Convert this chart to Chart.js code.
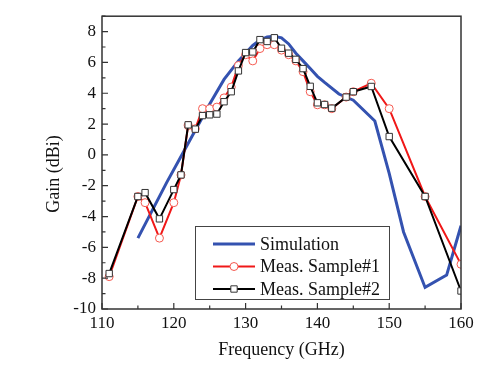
<!DOCTYPE html>
<html>
<head>
<meta charset="utf-8">
<script src="https://cdn.jsdelivr.net/npm/chart.js@4/dist/chart.umd.min.js"></script>
<style>
  html, body { margin: 0; padding: 0; background: #fff; }
</style>
</head>
<body>
<canvas id="gainChart" width="500" height="372"></canvas>
<script>
// values
const simFreq = [115, 117, 119, 121, 123, 125, 127, 129, 131, 132, 133, 134, 135, 136, 137, 138, 139, 140, 141, 143, 145, 148, 150, 152, 155, 158, 160];
const simGain = [-5.4, -3.6, -1.8, -0.1, 1.6, 3.3, 4.9, 6.1, 7.1, 7.45, 7.65, 7.7, 7.6, 7.2, 6.6, 6.1, 5.6, 5.1, 4.7, 3.95, 3.55, 2.2, -1.2, -5.0, -8.6, -7.8, -4.6];

const s1Freq = [111, 115, 116, 118, 120, 121, 122, 123, 124, 125, 126, 127, 128, 129, 130, 131, 132, 133, 134, 135, 136, 137, 138, 139, 140, 141, 142, 144, 145, 147.5, 150, 155, 160];
const s1Gain = [-7.9, -2.7, -3.1, -5.4, -3.1, -1.3, 1.9, 1.7, 3.0, 3.0, 3.1, 3.7, 4.4, 5.8, 6.5, 6.1, 6.9, 7.15, 7.15, 6.8, 6.5, 6.1, 5.4, 4.1, 3.25, 3.25, 3.0, 3.75, 4.1, 4.65, 3.0, -2.7, -7.1];

const s2Freq = [111, 115, 116, 118, 120, 121, 122, 123, 124, 125, 126, 127, 128, 129, 130, 131, 132, 133, 134, 135, 136, 137, 138, 139, 140, 141, 142, 144, 145, 147.5, 150, 155, 160];
const s2Gain = [-7.7, -2.7, -2.45, -4.15, -2.25, -1.3, 1.95, 1.67, 2.55, 2.6, 2.65, 3.45, 4.1, 5.45, 6.64, 6.68, 7.48, 7.36, 7.6, 6.92, 6.6, 6.2, 5.6, 4.45, 3.38, 3.27, 3.03, 3.75, 4.1, 4.44, 1.19, -2.7, -8.83];

const xTickValues = [110, 120, 130, 140, 150, 160];
const yTickValues = [-10, -8, -6, -4, -2, 0, 2, 4, 6, 8];

const serif = '"Liberation Serif", "Times New Roman", serif';

function toPoints(xs, ys) {
    return xs.map((x, i) => ({ x: x, y: ys[i] }));
}

// box around the plot, inward ticks and the rotated y title
const framePlugin = {
    id: 'frame',
    afterDatasetsDraw(chart) {
        const { ctx, chartArea: a, scales } = chart;
        const x = scales.x, y = scales.y;
        ctx.save();
        ctx.strokeStyle = '#333';
        ctx.lineWidth = 1.5;
        ctx.strokeRect(a.left, a.top, a.right - a.left, a.bottom - a.top);
        ctx.lineWidth = 1.2;
        ctx.beginPath();
        for (let v = 110; v <= 160; v += 5) {
            const px = x.getPixelForValue(v);
            const len = v % 10 === 0 ? 6 : 3.5;
            ctx.moveTo(px, a.bottom);
            ctx.lineTo(px, a.bottom - len);
        }
        for (let v = -10; v <= 9; v += 1) {
            const py = y.getPixelForValue(v);
            const len = v % 2 === 0 ? 6 : 3.5;
            ctx.moveTo(a.left, py);
            ctx.lineTo(a.left + len, py);
        }
        ctx.stroke();

        ctx.translate(54, 174);
        ctx.rotate(-Math.PI / 2);
        ctx.fillStyle = '#111';
        ctx.font = '18px ' + serif;
        ctx.textAlign = 'center';
        ctx.textBaseline = 'middle';
        ctx.fillText('Gain (dBi)', 0, 0);
        ctx.restore();
    }
};

// legend box inside the plot, lower middle
const boxLegend = {
    id: 'boxLegend',
    afterDraw(chart) {
        const ctx = chart.ctx;
        const box = { left: 195, top: 226, right: 389, bottom: 299 };
        const rows = [244, 266.5, 289];
        ctx.save();
        ctx.fillStyle = '#fff';
        ctx.fillRect(box.left, box.top, box.right - box.left, box.bottom - box.top);
        ctx.strokeStyle = '#444';
        ctx.lineWidth = 1;
        ctx.strokeRect(box.left + 0.5, box.top + 0.5, box.right - box.left, box.bottom - box.top);
        chart.data.datasets.forEach((ds, i) => {
            const yy = rows[i];
            ctx.strokeStyle = ds.borderColor;
            ctx.lineWidth = ds.borderWidth;
            ctx.beginPath();
            ctx.moveTo(213, yy);
            ctx.lineTo(255, yy);
            ctx.stroke();
            if (ds.pointRadius > 0) {
                ctx.fillStyle = ds.pointBackgroundColor;
                ctx.strokeStyle = ds.pointBorderColor;
                ctx.lineWidth = ds.pointBorderWidth;
                ctx.beginPath();
                if (ds.pointStyle === 'rect') {
                    const s = ds.pointRadius * Math.SQRT1_2;
                    ctx.rect(234 - s, yy - s, 2 * s, 2 * s);
                } else {
                    ctx.arc(234, yy, ds.pointRadius, 0, Math.PI * 2);
                }
                ctx.fill();
                ctx.stroke();
            }
            ctx.fillStyle = '#111';
            ctx.font = '18px ' + serif;
            ctx.textAlign = 'left';
            ctx.textBaseline = 'middle';
            ctx.fillText(ds.label, 260, yy + 1);
        });
        ctx.restore();
    }
};

const ctx = document.getElementById('gainChart').getContext('2d');

const gainChart = new Chart(ctx, {
    type: 'line',
    data: {
        datasets: [
            {
                label: 'Simulation',
                data: toPoints(simFreq, simGain),
                borderColor: 'rgb(52, 82, 176)',
                borderWidth: 3,
                pointRadius: 0,
                tension: 0,
                order: 3
            },
            {
                label: 'Meas. Sample#1',
                data: toPoints(s1Freq, s1Gain),
                borderColor: 'rgb(240, 24, 24)',
                borderWidth: 2,
                pointStyle: 'circle',
                pointRadius: 4,
                pointBorderWidth: 1,
                pointBorderColor: 'rgb(245, 90, 80)',
                pointBackgroundColor: '#fff',
                tension: 0,
                order: 2
            },
            {
                label: 'Meas. Sample#2',
                data: toPoints(s2Freq, s2Gain),
                borderColor: '#000',
                borderWidth: 2,
                pointStyle: 'rect',
                pointRadius: 4.5,
                pointBorderWidth: 1,
                pointBorderColor: '#333',
                pointBackgroundColor: '#fff',
                tension: 0,
                order: 1
            }
        ]
    },
    options: {
        responsive: false,
        animation: false,
        devicePixelRatio: 1,
        layout: {
            padding: { left: 0, right: 39, top: 16, bottom: 0 }
        },
        plugins: {
            legend: { display: false },
            tooltip: { enabled: false },
            title: { display: false }
        },
        scales: {
            x: {
                type: 'linear',
                min: 110,
                max: 160,
                afterBuildTicks: (axis) => { axis.ticks = xTickValues.map(v => ({ value: v })); },
                afterFit: (axis) => { axis.height = 63; },
                grid: { display: false, drawTicks: false },
                border: { display: false },
                ticks: {
                    padding: 4,
                    color: '#111',
                    font: { family: serif, size: 17 },
                    maxRotation: 0
                },
                title: {
                    display: true,
                    text: 'Frequency (GHz)',
                    color: '#111',
                    font: { family: serif, size: 18 },
                    padding: { top: 0, bottom: 11 }
                }
            },
            y: {
                min: -10,
                max: 9,
                afterBuildTicks: (axis) => { axis.ticks = yTickValues.map(v => ({ value: v })); },
                afterFit: (axis) => { axis.width = 102; },
                grid: { display: false, drawTicks: false },
                border: { display: false },
                ticks: {
                    padding: 6,
                    color: '#111',
                    font: { family: serif, size: 17 }
                }
            }
        }
    },
    plugins: [framePlugin, boxLegend]
});
</script>
</body>
</html>
